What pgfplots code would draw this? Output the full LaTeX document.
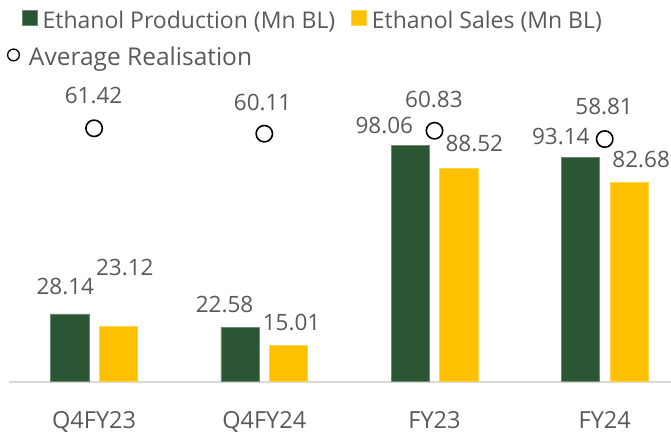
\documentclass[border=0pt]{standalone}
\usepackage{pgfplots}
\pgfplotsset{compat=1.18}
\usepackage{pgfplotstable}
\usepackage{fontspec}
\setmainfont{Open Sans}
\definecolor{prodgreen}{HTML}{2B5634}
\definecolor{prodedge}{HTML}{6E8A74}
\definecolor{salesyellow}{HTML}{FFC000}
\definecolor{txtgray}{HTML}{595959}
\definecolor{axisgray}{HTML}{D9D9D9}

% dx includes the bar shift (24.25pt) because the labels are anchored at the category centre
\pgfplotstableread{
x y lab dx dy
0 28.14 28.14 -28.75 27.7
1 22.58 22.58 -39.75 22.6
2 98.06 98.06 -50.25 20.4
3 93.14 93.14 -43.95 21.2
}\prodtable

\pgfplotstableread{
x y lab dx dy
0 23.12 23.12 30.75 58.5
1 15.01 15.01 27.25 22.8
2 88.52 88.52 39.75 25.3
3 82.68 82.68 36.5 23.5
}\salestable

\pgfplotstableread{
x y lab dx dy
0 61.42 61.42 -0.6 33
1 60.11 60.11 -1.7 31.3
2 60.83 60.83 -0.6 31.5
3 58.81 58.81 -0.6 32.7
}\avgtable

\pgfplotsset{
  lblstyle/.style={
    point meta=explicit symbolic,
    nodes near coords={\pgfplotspointmeta},
    visualization depends on={\thisrow{dx} \as \lblxs},
    visualization depends on={\thisrow{dy} \as \lblys},
    nodes near coords style={font=\fontsize{22.5}{27}\selectfont, text=txtgray,
      anchor=center, inner sep=0pt, xshift=\lblxs pt, yshift=\lblys pt},
  },
}

\begin{document}
\begin{tikzpicture}
\begin{axis}[
  name=main,
  width=662pt, height=288.8pt, scale only axis,
  xmin=-0.5, xmax=3.3895, ymin=0, ymax=120,
  clip=false,
  axis x line*=bottom, axis y line=none,
  x axis line style={draw=axisgray, line width=2pt},
  xtick={0,1,2,3}, xticklabels={Q4FY23,Q4FY24,FY23,FY24},
  ytick=\empty,
  major tick length=0pt,
  xticklabel style={anchor=base, yshift=-47pt, font=\fontsize{23.5}{27}\selectfont, text=txtgray},
  legend columns=2,
  legend cell align=left,
  legend style={at={(axis description cs:0,1)}, anchor=north west,
    xshift=13pt, yshift=82.5pt, draw=none, fill=none, inner sep=0pt, outer sep=0pt,
    font=\fontsize{23}{28}\selectfont, text=txtgray,
    nodes={inner sep=0pt},
    /tikz/every odd column/.append style={column sep=5pt},
    /tikz/every even column/.append style={column sep=16pt}},
  legend image code/.code={\fill[#1] (0pt,-5.5pt) rectangle (15pt,9.5pt);},
]
\addplot[ybar, bar width=0.225, bar shift=-0.1425, fill=prodgreen, draw=prodedge, line width=0.6pt, lblstyle]
  table[x=x, y=y, meta=lab] {\prodtable};
\addlegendentry{Ethanol Production (Mn BL)}
\addplot[ybar, bar width=0.225, bar shift=0.1425, fill=salesyellow, draw=salesyellow!70!white, line width=0.6pt, lblstyle]
  table[x=x, y=y, meta=lab] {\salestable};
\addlegendentry{Ethanol Sales (Mn BL)}
\end{axis}

\begin{axis}[
  width=662pt, height=288.8pt, scale only axis,
  xmin=-0.5, xmax=3.3895, ymin=0, ymax=70,
  clip=false,
  hide axis,
  legend cell align=left,
  legend style={at={(axis description cs:0,1)}, anchor=north west,
    xshift=-2pt, yshift=46pt, draw=none, fill=none, inner sep=0pt, outer sep=0pt,
    font=\fontsize{24.5}{28}\selectfont, text=txtgray,
    nodes={inner sep=0pt},
    /tikz/every odd column/.append style={column sep=9pt}},
  legend image code/.code={\draw[black, fill=white, line width=1.3pt] (6.5pt,2pt) circle (5.85pt);},
]
\addplot[only marks, mark=*, mark size=8.2pt, mark options={fill=white, draw=black, line width=1.6pt}, lblstyle]
  table[x=x, y=y, meta=lab] {\avgtable};
\addlegendentry{Average Realisation}
\end{axis}

\pgfresetboundingbox
\path[use as bounding box] ([xshift=-9pt,yshift=-51.3pt]main.south west) rectangle ([yshift=92.9pt]main.north east);
\end{tikzpicture}
\end{document}
